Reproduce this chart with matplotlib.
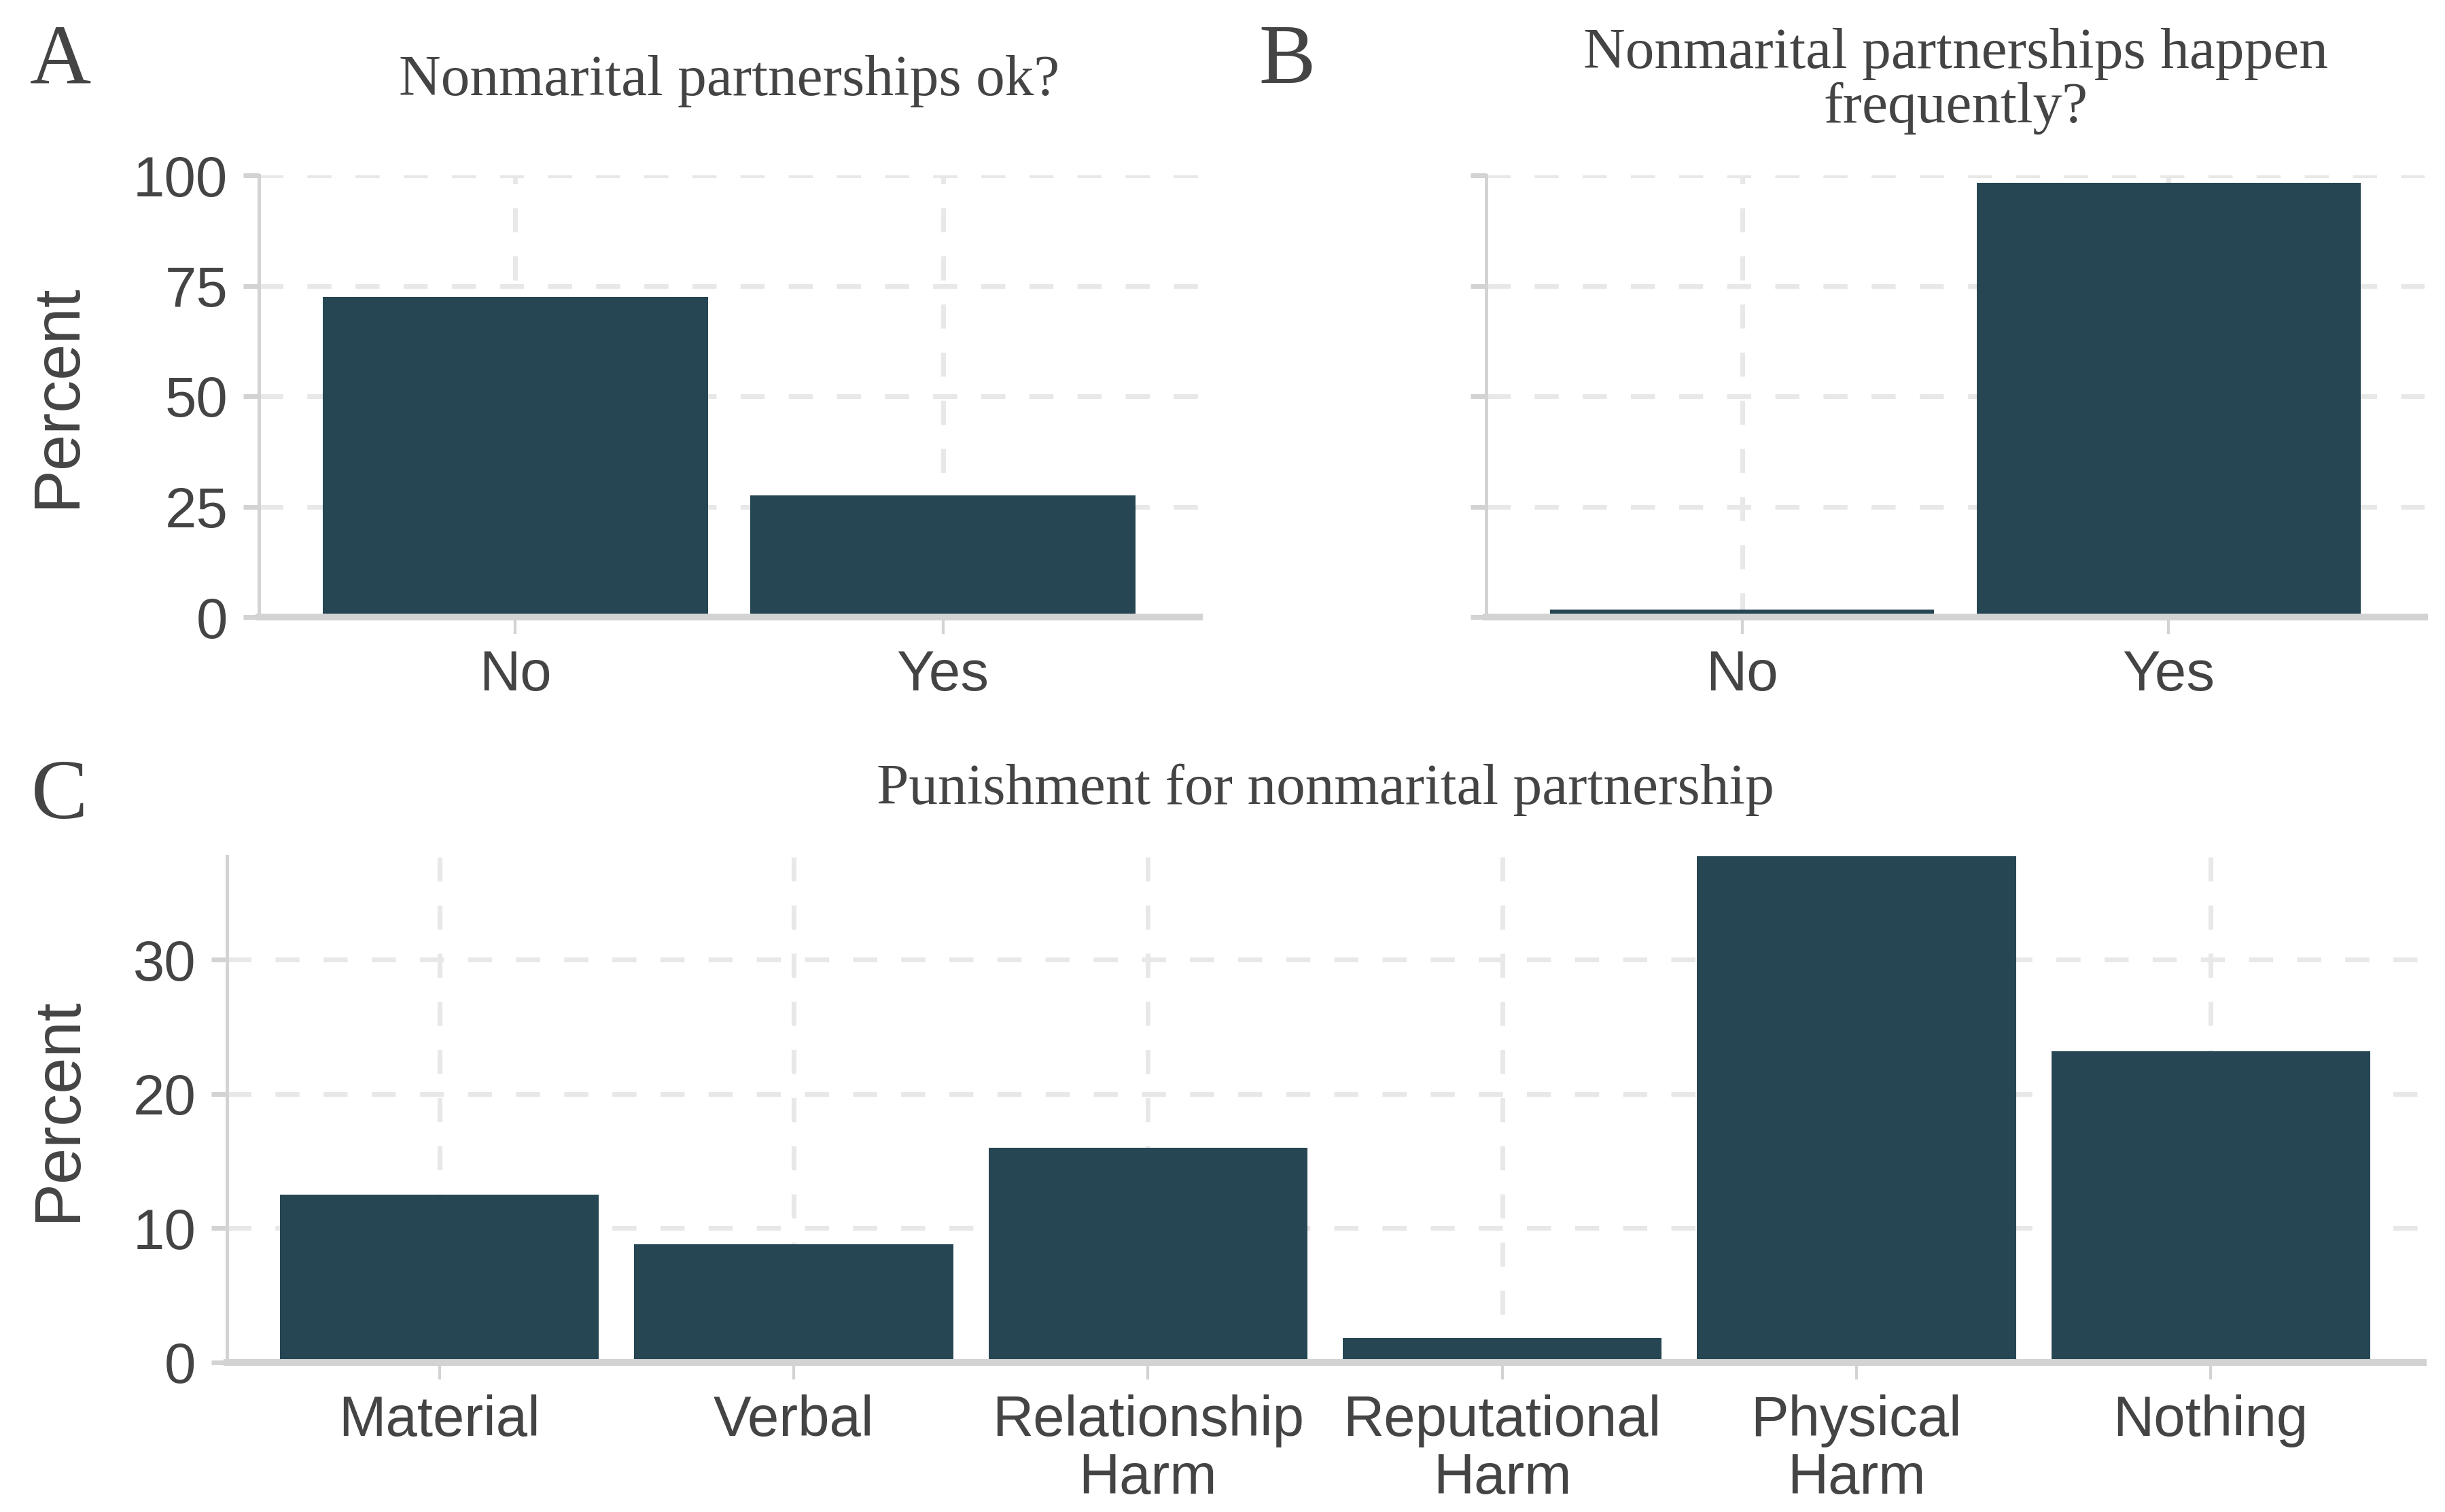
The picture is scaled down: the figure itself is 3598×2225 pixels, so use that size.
import matplotlib
matplotlib.use('Agg')
import matplotlib.pyplot as plt

# ---- data ----
okay_cats = ['No', 'Yes']
okay_vals = [72.4, 27.6]
freq_cats = ['No', 'Yes']
freq_vals = [1.7, 98.3]
pun_cats = ['Material', 'Verbal', 'Relationship\nHarm', 'Reputational\nHarm',
            'Physical\nHarm', 'Nothing']
pun_vals = [12.5, 8.8, 16.0, 1.8, 37.7, 23.2]
ab_yticks = [0, 25, 50, 75, 100]
c_yticks = [0, 10, 20, 30]

title_a = 'Nonmarital partnerships ok?'
title_b1 = 'Nonmarital partnerships happen'
title_b2 = 'frequently?'
title_c = 'Punishment for nonmarital partnership'

BAR = '#264653'
TXT = '#444444'
AXC = '#d3d3d3'
GRID = '#e8e8e8'

plt.rcParams['font.family'] = ['Liberation Sans', 'DejaVu Sans']
plt.rcParams['lines.scale_dashes'] = False

W, H = 3598, 2225
fig = plt.figure(figsize=(W / 300, H / 300), dpi=300)


def add_ax(l, r, t, b):
    return fig.add_axes([l / W, 1 - b / H, (r - l) / W, (b - t) / H])


axA = add_ax(381, 1765, 258, 908)
axB = add_ax(2187, 3568, 258, 908)
axC = add_ax(334, 3566, 1260, 2005)


def style(ax, cats, vals, yticks, ymax, show_ylabels):
    x = list(range(len(cats)))
    ax.bar(x, vals, width=0.9, color=BAR)
    ax.set_xlim(-0.6, len(cats) - 0.4)
    ax.set_ylim(0, ymax)
    ax.set_xticks(x)
    ax.set_xticklabels(cats, linespacing=1.12)
    ax.set_yticks(yticks)
    if not show_ylabels:
        ax.set_yticklabels([])
    for s in ['top', 'right']:
        ax.spines[s].set_visible(False)
    ax.spines['left'].set_color(AXC)
    ax.spines['left'].set_linewidth(1.2)
    ax.spines['bottom'].set_color(AXC)
    ax.spines['bottom'].set_linewidth(2.4)
    ax.tick_params(axis='y', length=5.5, width=1.7, color=AXC, pad=5.5,
                   labelsize=20, labelcolor=TXT)
    ax.tick_params(axis='x', length=6, width=1.0, color=AXC, pad=5.3,
                   labelsize=20, labelcolor=TXT)
    ax.grid(True, axis='both', color=GRID, linewidth=1.7,
            linestyle=(0, (8.5, 8.5)))
    ax.set_axisbelow(True)


style(axA, okay_cats, okay_vals, ab_yticks, 100, True)
style(axB, freq_cats, freq_vals, ab_yticks, 100, False)
style(axC, pun_cats, pun_vals, c_yticks, max(pun_vals), True)

for ax, xr in [(axA, -0.181), (axC, -0.0628)]:
    ax.set_ylabel('Percent', fontsize=23, color=TXT)
    ax.yaxis.set_label_coords(xr, 0.5)

serif = ['Liberation Serif', 'DejaVu Serif']
fig.text((381 + 1765) / 2 / W, 1 - 140 / H, title_a, ha='center', va='baseline',
         fontsize=20.5, family=serif, color=TXT)
fig.text((2187 + 3568) / 2 / W, 1 - 100 / H, title_b1, ha='center', va='baseline',
         fontsize=20.5, family=serif, color=TXT)
fig.text((2187 + 3568) / 2 / W, 1 - 180 / H, title_b2, ha='center', va='baseline',
         fontsize=20.5, family=serif, color=TXT)
fig.text((334 + 3566) / 2 / W, 1 - 1183 / H, title_c, ha='center', va='baseline',
         fontsize=20.5, family=serif, color=TXT)

for lab, x, y in [('A', 44, 122), ('B', 1852, 122), ('C', 46, 1204)]:
    fig.text(x / W, 1 - y / H, lab, ha='left', va='baseline', fontsize=30,
             family=serif, color=TXT)

fig.savefig('out.png', dpi=300, facecolor='white')
